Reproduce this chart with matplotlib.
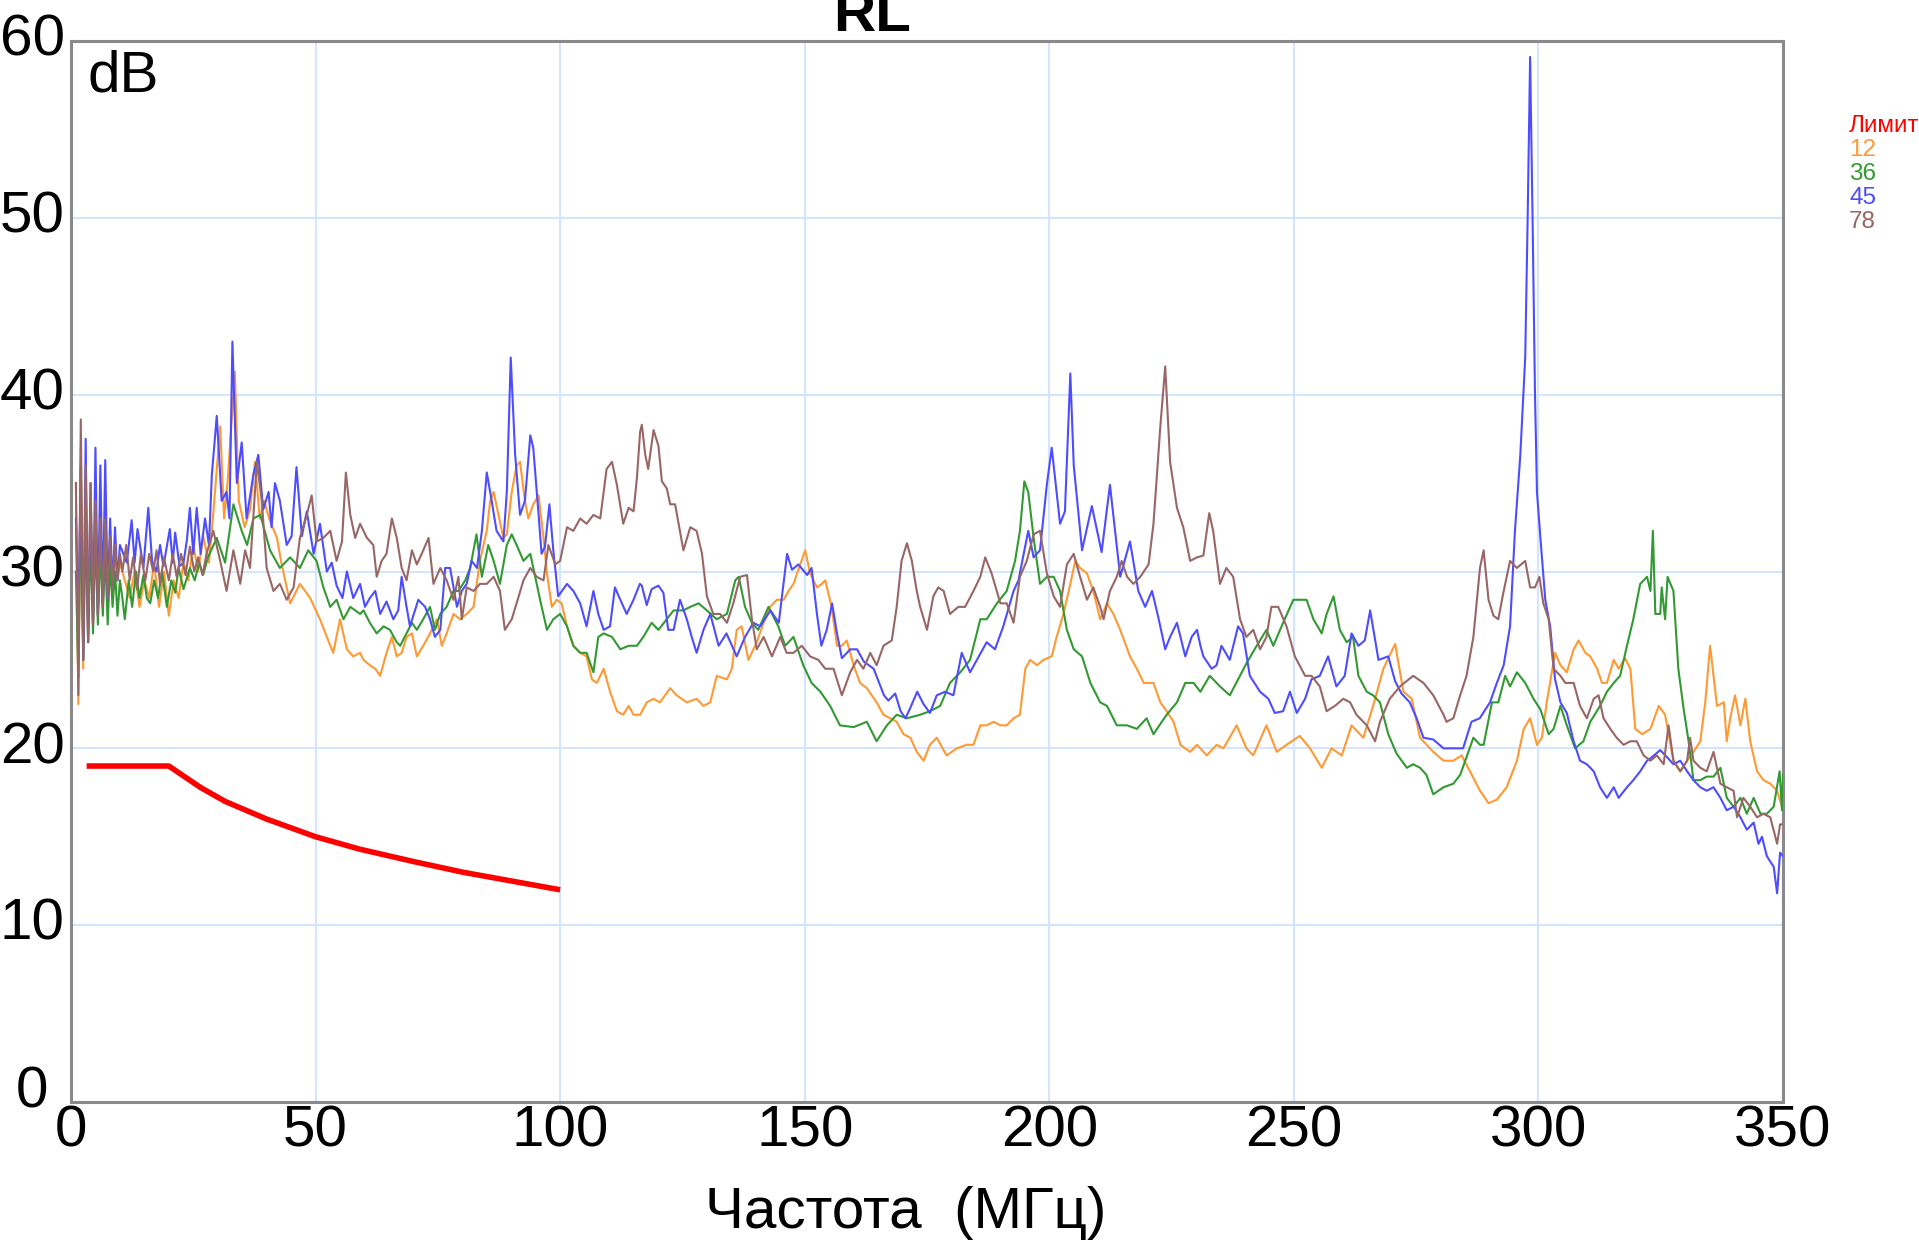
import numpy as np
import matplotlib
matplotlib.use("Agg")
import matplotlib.pyplot as plt
import matplotlib.transforms as mtransforms

plt.rcParams['font.family'] = ['Liberation Sans', 'DejaVu Sans']

# RL limit (MHz, dB)
LIMIT_F = [3.2, 20, 26.4, 31.5, 40, 50, 59, 70, 80, 90, 100]
LIMIT_DB = [19, 19, 17.8, 17.0, 16.0, 15.0, 14.3, 13.6, 13.0, 12.5, 12.0]

# pair 12 (MHz, dB)
TR_12 = [(1.0,35),(1.5,22.5),(2.0,37),(2.5,24.5),(3.0,34.5),(3.5,26),(4.0,34),(4.5,27),(5.0,33.5),(5.5,27.5),(6.0,33),(6.5,28),(7.0,32),(7.5,28.5),(8.0,31.5),(8.5,29),(9.0,31),(9.5,29.5),(10.0,30.5),
    (11,29.5),(12,28.5),(13,30),(14,28),(15,29.5),(16,28.5),(17,30.5),(18,28),(19,30),(20,27.5),(21,29.5),(22,28.5),(23,30.5),(24,29.5),(25,31.5),(26,30),(27,32),
    (28.2,30.5),(29.0,33.0),(30.5,38.2),(31.3,33.0),(32.0,35.0),(33.5,41.3),(34.3,34.0),(35.5,32.5),(36.6,33.5),(37.6,36.2),(38.6,33.0),(39.5,34.0),(40.5,33.0),(42.1,31.9),(43.0,30.5),(44.8,28.2),(46.8,29.3),(48.9,28.5),(50.9,27.3),(52.3,26.3),(53.6,25.4),(55.0,27.3),(56.4,25.6),(57.7,25.2),(59.1,25.4),
    (59.8,25.0),(61.1,24.7),(62.2,24.5),(63.2,24.1),(64.5,25.4),(65.6,26.3),(66.6,25.2),(67.6,25.4),(68.6,26.3),(69.7,26.5),(70.7,25.2),(72.0,25.8),(73.4,26.5),(74.8,27.3),(75.8,25.8),(76.8,26.5),(78.2,27.6),(79.5,27.3),(80.9,27.6),(82.3,28.0),(83.6,30.6),(85.0,32.3),(85.7,34.0),(86.4,34.5),(87.4,33.2),(88.4,31.9),(89.1,32.1),(90.1,34.5),(91.1,36.0),(91.8,36.2),(92.8,34.0),(93.5,33.0),(94.5,33.8),(95.6,34.3),(96.6,31.9),(97.3,29.9),(98.3,28.0),(99.3,28.4),(100.3,28.2),(101.4,26.9),(102.7,25.8),(104.1,25.4),(105.4,25.2),(106.5,23.9),(107.5,23.7),(108.9,24.5),(110.2,23.2),(111.6,22.1),(112.9,21.9),(114.0,22.4),(115.0,21.9),(116.35,21.9),
    (117.7,22.6),(119.1,22.8),(120.4,22.6),(122.5,23.4),(123.8,23.0),(125.9,22.6),(127.9,22.8),(129.3,22.4),(130.7,22.6),(132.0,24.1),(134.1,23.9),(135.1,24.5),(136.1,26.7),(137.1,26.9),(138.5,25.0),(140.2,26.0),(141.6,27.1),(142.9,28.0),(144.3,28.4),(145.7,28.4),(146.7,28.9),(147.7,29.3),(149.1,30.4),(150.1,31.2),(151.1,29.9),(152.5,29.1),(153.5,29.3),(154.2,29.5),(155.5,28.0),(156.6,25.8),(157.6,25.8),(158.6,26.1),(160.0,24.7),(161.3,23.7),(162.7,23.4),(164.7,22.6),(166.1,21.9),(167.5,21.7),(168.8,21.5),(170.2,20.8),(171.6,20.6),(172.9,19.8),
    (174.3,19.3),(175.6,20.2),(177.0,20.6),(179.0,19.6),(181.1,20.0),(183.1,20.2),(184.5,20.2),(185.9,21.3),(187.2,21.3),(188.6,21.5),(190.0,21.3),(191.3,21.3),(192.7,21.7),(194.0,21.9),(195.1,24.5),(196.1,25.0),(197.5,24.7),(198.8,25.0),(200.5,25.2),(201.5,26.3),(202.9,27.6),(204.3,29.3),(205.3,30.6),(206.3,30.2),(207.7,29.9),(209.0,28.9),(210.4,27.3),(211.8,28.2),(213.1,27.6),(214.5,26.7),(216.5,25.2),(217.9,24.5),(219.3,23.7),(221.3,23.7),(222.7,22.6),(224.0,22.1),(225.4,21.5),(226.8,20.2),(228.8,19.8),(230.2,20.2),
    (232.2,19.6),(234.2,20.2),(235.6,20.0),(238.3,21.3),(240.3,20.0),(241.7,19.6),(244.4,21.3),(246.5,19.8),(248.5,20.2),(251.2,20.7),(253.3,20.0),(255.7,18.9),(257.7,20.0),(259.8,19.6),(261.8,21.3),(264.2,20.6),(266.2,22.4),(268.3,24.5),(270.7,25.9),(272.4,23.2),(274.1,22.8),(275.8,20.6),(278.5,19.8),(280.6,19.3),(282.6,19.3),(284.3,19.6),(286.0,18.7),(288.05,17.6),
    (289.8,16.9),(291.5,17.1),(293.5,17.8),(295.6,19.3),(297.0,21.1),(298.3,21.7),(299.7,20.2),(300.7,20.6),(301.7,22.6),(303.4,25.4),(304.5,24.7),(305.8,24.3),(307.2,25.6),(308.2,26.1),(309.6,25.4),(310.6,25.2),(312.0,24.5),(313.0,23.7),(314.0,23.7),(315.4,25.0),(316.4,24.5),(317.7,25.1),(318.8,24.5),(319.8,21.1),(321.2,20.8),(322.9,21.1),(324.6,22.4),(325.9,21.9),(327.6,19.3),(329.0,18.7),(330.4,19.3),(331.7,19.8),(333.1,20.4),(334.1,22.6),(335.1,25.8),(336.5,22.4),(337.9,22.6),(338.5,20.4),(339.2,21.7),(340.2,23.0),(341.3,21.3),(342.3,22.8),(343.3,20.4),(344.7,18.7),(346.0,18.2),(347.4,18.0),(348.8,17.6),(349.8,16.7),(350.0,18.0)]

# pair 36
TR_36 = [(1.0,30),(1.5,24),(2.0,34),(2.5,25),(3.0,33),(3.5,26),(4.0,32),(4.5,26.5),(5.0,32),(5.5,27),(6.0,31.5),(6.5,27.5),(7.0,31),(7.5,27),(8.0,30.5),(8.5,28),(9.0,30),(9.5,27.5),(10.0,29.5),
    (10.5,28.5),(11.0,27.3),(11.8,29.5),(12.5,28.0),(13.3,30.0),(14.0,28.5),(14.8,29.8),(15.5,28.5),(16.2,28.2),(17.0,29.5),(17.8,28.5),(18.6,30.0),(19.6,28.0),(20.5,29.5),(21.3,28.8),(22.0,30.2),(23.0,29.0),(24.3,30.2),(25.3,29.5),(26.2,30.5),(27.0,29.8),(28.0,30.8),
    (29.8,31.9),(31.5,30.5),(33.2,33.8),(34.9,32.3),(36.0,31.5),(37.3,33.0),(38.7,33.2),(40.7,31.2),(42.7,30.2),(44.8,30.8),(46.8,30.2),(48.5,31.2),(50.2,30.6),(51.6,29.1),(53.0,28.0),(54.3,28.4),(55.7,27.3),(57.1,28.0),(59.1,27.6),
    (59.8,27.8),(61.1,27.1),(62.5,26.5),(63.9,26.9),(65.2,26.7),(66.6,26.0),(67.3,25.8),(68.6,26.5),(69.7,27.1),(70.7,26.7),(72.0,27.3),(73.4,28.0),(74.4,26.7),(75.5,27.6),(76.8,28.0),(78.2,28.9),(79.2,28.9),(80.6,29.5),(81.6,30.2),(82.9,32.1),(84.0,29.7),(85.3,31.5),(86.4,30.6),(87.7,29.3),(89.1,31.5),(90.1,32.1),(91.1,31.5),(92.5,30.6),(93.9,31.0),(94.9,29.7),(95.9,28.4),(97.3,26.7),(98.6,27.3),(100.0,27.6),(101.4,26.9),(102.7,25.8),(104.1,25.4),(105.4,25.4),(106.8,24.3),(107.8,26.3),(108.9,26.5),(110.6,26.3),(112.3,25.6),(114.0,25.8),(115.7,25.8),
    (117.0,26.3),(118.7,27.1),(120.1,26.7),(121.8,27.3),(123.2,27.8),(125.2,27.8),(126.6,28.0),(128.3,28.2),(130.0,27.8),(132.0,27.3),(134.1,27.6),(135.8,29.5),(136.5,29.7),(137.8,28.0),(139.2,27.1),(140.5,26.7),(142.6,28.0),(144.6,26.9),(146.0,25.8),(147.7,26.3),(149.7,24.7),(151.4,23.7),(153.2,23.2),(155.2,22.4),(157.2,21.3),(160.0,21.2),(162.7,21.5),(164.7,20.4),(166.8,21.3),(168.8,21.9),(170.9,21.7),(173.6,21.9),
    (175.6,22.1),(177.7,22.4),(179.7,23.7),(181.8,24.3),(183.8,25.0),(185.9,27.3),(187.2,27.3),(189.3,28.2),(191.3,28.9),(193.0,30.6),(194.0,32.3),(194.9,35.1),(195.7,34.5),(196.8,31.9),(198.1,29.3),(199.5,29.7),(200.9,29.7),(202.2,28.9),(203.6,26.7),(205.0,25.6),(206.7,25.2),(208.4,23.7),(210.4,22.6),(211.8,22.4),(213.8,21.3),(215.9,21.3),(217.9,21.1),(219.9,21.7),(221.3,20.8),(223.0,21.5),(224.0,21.9),(226.1,22.6),(227.8,23.7),(229.5,23.7),(230.9,23.2),
    (232.8,24.1),(234.9,23.5),(236.9,23.0),(238.6,23.9),(240.3,24.8),(242.4,25.8),(244.4,26.7),(245.8,25.8),(247.8,27.1),(249.9,28.4),(251.2,28.4),(252.6,28.4),(254.0,27.3),(255.7,26.5),(256.7,27.6),(258.1,28.6),(259.4,26.7),(260.8,26.0),(262.1,26.3),(263.2,24.1),(264.9,23.2),(266.2,23.0),(267.6,22.6),(269.3,20.8),(271.0,19.7),(273.1,18.9),(274.4,19.1),(275.8,18.9),(277.1,18.5),(278.5,17.4),(280.6,17.8),(282.6,18.0),(284.0,18.5),(285.3,19.5),(286.7,20.6),(288.05,20.2),
    (288.8,20.2),(290.5,22.6),(291.8,22.6),(293.2,24.1),(294.2,23.5),(295.6,24.3),(297.3,23.7),(299.0,22.8),(300.4,22.2),(302.1,20.8),(303.1,21.1),(304.5,22.4),(305.8,21.3),(307.5,20.0),(309.2,20.4),(310.6,21.5),(312.6,22.4),(314.0,23.2),(315.4,23.7),(316.7,24.1),(318.1,25.8),(319.4,27.3),(320.8,29.3),(322.2,29.7),(322.9,28.9),(323.4,32.3),(323.9,27.6),(324.9,27.6),(325.2,29.1),(325.9,27.3),(326.4,29.7),(327.6,28.9),(328.6,24.5),(329.7,22.2),(330.7,20.4),(331.7,18.2),(333.1,18.2),(334.4,18.4),(335.8,18.4),(337.2,18.9),(338.5,17.2),(339.9,16.7),(341.3,17.2),(342.6,16.3),(344.0,17.2),(345.4,16.3),(346.7,16.3),(348.1,16.7),(349.3,18.7),(349.8,16.5),(350.0,18.5)]

# pair 45
TR_45 = [(1.0,33),(1.5,27),(2.0,36),(2.5,25),(3.0,37.5),(3.5,26),(4.0,35),(4.5,27),(5.0,37),(5.5,27.5),(6.0,36),(6.5,28),(7.0,36.3),(7.5,28.5),(8.0,33),(8.5,29),(9.0,32.5),(9.5,29.5),(10.0,31.5),
    (11.4,30.5),(12.4,32.9),(13.0,30.5),(13.6,32.4),(14.8,30.2),(15.8,33.6),(16.6,30.5),(17.5,30.0),(18.2,31.5),(18.9,30.3),(20.2,32.4),(20.8,30.5),(21.3,32.2),(22.2,30.3),(23.0,30.5),(23.7,31.8),(24.3,33.6),(25.0,31.0),(25.7,33.6),(26.5,31.0),(27.4,33.0),(28.2,31.5),
    (28.8,35.5),(29.8,38.8),(30.8,34.0),(31.8,34.5),(32.4,33.0),(33.0,43.0),(33.9,35.0),(34.9,37.3),(35.9,33.0),(37.3,35.5),(38.3,36.6),(39.3,33.5),(40.4,34.5),(41.0,32.5),(41.7,35.0),(42.7,34.0),(44.1,31.5),(45.1,32.0),(46.1,35.9),(47.2,32.0),(48.2,33.4),(49.6,31.0),(50.9,32.7),(52.3,30.0),(53.3,30.5),(54.3,29.2),(55.5,28.5),(56.4,30.0),(57.7,28.5),(59.1,29.3),
    (60.1,28.0),(61.1,28.5),(62.2,28.9),(63.2,27.6),(64.5,28.3),(65.9,27.3),(66.9,27.8),(67.6,29.7),(68.6,28.0),(69.3,26.9),(71.0,28.4),(72.4,28.0),(73.4,27.3),(74.4,26.3),(75.5,26.7),(76.5,30.2),(77.5,30.2),(78.9,28.0),(79.9,28.9),(80.9,29.3),(81.9,30.6),(83.0,30.2),(84.0,32.3),(85.0,35.6),(86.0,34.0),(87.0,32.3),(88.4,31.7),(89.1,34.5),(89.9,42.1),(90.8,36.6),(91.8,33.2),(92.8,34.0),(93.9,37.7),(94.5,37.0),(95.6,33.2),(96.2,31.0),(96.9,31.4),(97.8,33.8),(98.6,31.2),(99.6,28.6),(101.4,29.3),(102.7,28.9),(104.1,28.2),(105.4,26.9),(106.8,28.9),(107.8,27.6),(108.9,26.7),(110.2,26.9),(111.2,29.1),(112.3,28.4),(113.6,27.6),(115.0,28.4),(116.3,29.3),
    (116.7,29.2),(117.7,28.1),(118.7,29.0),(120.1,29.2),(121.1,28.8),(122.1,26.7),(123.2,26.7),(124.5,28.4),(125.9,27.3),(126.9,26.3),(127.9,25.4),(129.3,26.7),(130.7,27.6),(132.4,25.8),(134.0,26.5),(136.1,25.2),(137.8,26.3),(139.5,27.1),(140.9,26.9),(143.0,27.8),(144.7,27.1),(146.4,31.0),(147.4,30.1),(148.7,30.4),(150.5,29.8),(151.4,30.2),(152.5,27.6),(153.4,25.8),(154.5,26.7),(155.6,28.2),(156.6,26.5),(157.6,25.1),(159.3,25.6),(160.7,25.6),(162.1,24.9),(164.1,24.5),(166.2,23.0),(167.1,22.7),(168.5,23.1),(169.6,22.1),(170.6,21.7),(171.6,22.3),(173.0,23.2),
    (174.3,22.5),(175.6,22.0),(177.0,23.0),(178.7,23.2),(180.4,23.0),(182.1,25.4),(183.8,24.3),(185.2,25.0),(187.2,26.0),(188.9,25.6),(190.6,26.9),(192.7,28.9),(193.7,29.5),(195.7,32.3),(196.8,30.8),(198.1,31.2),(199.5,34.9),(200.5,37.0),(202.2,32.7),(203.2,33.4),(204.3,41.2),(205.0,36.0),(206.7,31.2),(208.7,33.7),(210.7,31.1),(212.4,34.9),(214.5,29.7),(216.5,31.7),(218.2,28.9),(219.6,28.0),(221.0,28.9),(222.3,27.4),(223.7,25.6),(224.7,26.3),(226.1,27.1),(227.8,25.2),(229.1,26.3),(230.2,26.7),(230.9,25.8),
    (231.5,25.2),(233.2,24.5),(234.2,24.7),(235.2,25.8),(236.9,25.0),(238.6,26.9),(239.6,26.5),(241.0,24.1),(243.1,23.2),(244.8,22.8),(246.1,22.0),(247.8,22.1),(249.2,23.2),(250.6,22.0),(252.3,22.8),(253.6,23.9),(255.3,24.1),(257.0,25.2),(258.7,23.5),(260.4,24.1),(261.8,26.5),(263.2,25.8),(264.5,26.1),(265.6,27.8),(267.3,25.0),(269.3,25.2),(270.7,23.8),(272.0,23.1),(273.7,22.6),(275.1,21.7),(276.5,20.6),(278.5,20.5),(280.6,20.0),(283.3,20.0),(284.6,20.0),(286.3,21.5),(288.0,21.7),
    (290.1,22.6),(291.5,23.7),(292.9,24.7),(294.2,26.9),(295.2,32.3),(296.3,36.6),(297.3,42.1),(297.8,50.0),(298.3,59.1),(298.8,50.0),(299.3,40.0),(299.7,34.5),(300.4,31.9),(301.4,28.4),(302.4,26.9),(303.4,23.9),(304.5,22.6),(305.8,22.0),(307.2,20.4),(308.5,19.3),(309.9,19.1),(311.3,18.7),(312.6,17.8),(314.0,17.2),(315.4,17.8),(316.4,17.2),(318.1,17.8),(319.4,18.2),(320.8,18.7),(322.2,19.3),(323.2,19.5),(324.9,19.9),(326.3,19.5),(327.6,19.1),(329.0,19.3),(330.4,18.7),(331.7,18.2),(333.1,17.8),(334.4,17.6),(335.8,17.8),(337.2,17.2),(338.5,16.5),(339.9,16.7),(341.3,16.1),(342.6,15.4),(344.0,15.8),(345.0,14.6),(345.7,15.0),(346.7,13.9),(348.1,13.3),(348.8,11.8),(349.4,14.1),(350.0,13.9)]

# pair 78
TR_78 = [(1.0,35),(1.5,23),(2.0,38.6),(2.5,25),(3.0,36),(3.5,26),(4.0,35),(4.5,27),(5.0,34),(5.5,27.5),(6.0,33),(6.5,28),(7.0,33),(7.5,28.5),(8.0,32),(8.5,29),(9.0,31.5),(9.5,29.5),(10.0,31),
    (10.5,30.0),(11.3,31.5),(12.0,29.5),(12.7,30.8),(13.5,29.0),(14.3,31.0),(15.2,29.5),(16.0,31.0),(16.8,30.0),(17.5,31.2),(18.2,29.3),(19.0,30.8),(20.0,29.5),(20.8,31.0),(21.6,29.7),(22.5,31.0),(23.4,29.8),(24.3,31.4),(25.2,30.0),(26.0,30.8),(26.9,29.8),(27.7,31.0),
    (29.1,32.3),(30.5,30.6),(31.8,28.9),(33.2,31.2),(34.6,29.3),(35.6,31.2),(36.6,30.2),(38.0,36.2),(39.0,34.0),(40.0,30.2),(41.4,28.9),(42.7,29.3),(44.1,28.4),(45.5,29.1),(46.8,31.9),(48.2,33.2),(49.2,34.3),(50.2,31.7),(51.6,31.9),(53.0,32.3),(54.3,30.6),(55.4,31.7),(56.2,35.6),(57.1,33.2),(58.1,31.9),(59.1,32.7),
    (60.5,31.9),(61.8,31.5),(62.5,29.7),(63.5,30.6),(64.5,31.0),(65.6,33.0),(66.6,31.9),(67.6,30.2),(68.6,29.5),(69.7,31.2),(70.7,30.4),(71.7,31.0),(73.1,31.9),(74.1,29.3),(75.5,30.2),(76.8,29.5),(78.2,28.4),(79.2,29.7),(79.9,27.3),(80.9,29.1),(82.3,28.9),(83.6,29.3),(85.0,29.3),(86.4,29.7),(87.7,28.9),(88.7,26.7),(90.1,27.3),(91.1,28.2),(92.5,29.5),(93.9,30.2),(95.2,29.7),(96.6,29.5),(97.6,31.5),(99.0,30.4),(100.0,30.6),(101.4,32.5),(102.7,32.3),(104.1,33.0),(105.4,32.7),(106.8,33.2),(108.2,33.0),(109.5,35.8),(110.6,36.2),(111.6,34.9),(112.9,32.7),(114.0,33.6),(115.0,33.4),(115.7,35.3),(116.35,37.9),
    (116.7,38.3),(117.4,36.6),(118.0,35.8),(119.1,38.0),(120.1,37.1),(120.8,35.1),(121.8,34.7),(122.5,33.8),(123.5,33.8),(125.2,31.2),(126.6,32.5),(127.9,32.3),(129.0,31.0),(130.0,28.6),(131.3,27.6),(132.7,27.6),(134.1,27.1),(135.4,28.2),(136.8,29.7),(138.2,29.8),(139.2,27.3),(140.2,25.6),(141.6,26.3),(143.3,25.2),(145.0,26.3),(146.3,25.4),(147.7,25.4),(149.4,25.8),(151.1,25.2),(152.8,25.0),(154.2,24.5),(155.9,24.5),(157.6,23.0),(159.3,24.3),(160.7,25.0),(162.0,24.5),(163.4,25.4),(164.7,24.7),(166.1,25.8),(167.8,26.1),(168.8,28.0),(169.8,30.6),(170.9,31.6),(171.9,30.6),(172.9,28.9),(173.6,28.0),
    (175.0,26.7),(176.3,28.6),(177.3,29.1),(178.4,28.9),(179.7,27.6),(181.4,28.0),(182.8,28.0),(184.5,28.9),(185.9,29.7),(186.9,30.8),(188.2,29.9),(190.0,28.2),(191.3,28.2),(192.7,27.1),(194.0,29.7),(195.4,30.6),(196.8,32.1),(198.1,32.3),(199.5,29.9),(200.9,28.6),(202.2,28.0),(203.6,30.4),(205.0,31.0),(206.3,29.7),(207.7,28.4),(209.0,29.1),(210.4,28.0),(211.1,27.3),(212.4,28.9),(213.8,29.7),(214.8,30.6),(215.9,29.7),(217.2,29.3),(218.6,29.7),(220.3,30.4),(221.3,32.7),(222.7,38.2),(223.7,41.6),(224.7,36.2),(226.1,33.6),(227.4,32.5),(228.8,30.6),(230.2,30.8),
    (231.5,30.9),(232.7,33.3),(233.5,32.3),(234.9,29.3),(236.2,30.2),(237.6,29.7),(239.0,27.3),(240.3,26.3),(241.7,26.7),(243.1,25.6),(244.4,26.3),(245.4,28.0),(246.8,28.0),(248.5,26.9),(250.2,25.2),(252.3,24.1),(253.6,24.1),(255.3,23.5),(256.7,22.1),(258.4,22.4),(260.1,22.8),(261.5,22.6),(262.8,21.9),(264.9,21.3),(266.6,20.4),(267.6,21.5),(269.6,22.8),(271.7,23.5),(274.4,24.1),(276.5,23.7),(278.5,23.0),(280.6,21.9),(281.2,21.5),(282.6,21.7),(284.0,23.0),(285.3,24.1),(286.7,26.3),(288.05,30.2),
    (288.8,31.2),(289.8,28.4),(290.8,27.5),(291.8,27.3),(292.9,28.9),(294.2,30.6),(295.6,30.2),(297.3,30.6),(298.3,29.1),(299.3,29.1),(300.2,29.7),(301.0,28.2),(302.1,27.3),(303.1,24.5),(304.5,24.1),(305.5,23.7),(307.2,23.7),(308.5,22.4),(309.9,21.7),(311.3,22.8),(312.3,23.0),(313.3,21.7),(314.7,21.1),(316.0,20.6),(317.4,20.2),(318.8,20.4),(320.1,20.4),(321.5,19.6),(322.9,19.3),(324.2,19.6),(325.6,19.1),(326.6,21.3),(327.6,19.3),(329.0,18.7),(330.4,19.3),(331.0,20.6),(331.7,19.3),(333.1,18.9),(334.4,18.7),(335.8,19.8),(337.2,18.0),(338.5,17.8),(339.9,17.6),(340.6,16.1),(341.9,17.2),(343.3,16.7),(344.7,16.1),(346.0,16.3),(347.4,16.1),(348.8,14.6),(349.4,15.7),(350.0,15.7)]

SERIES = [("12", TR_12, "#ff9933"), ("36", TR_36, "#339933"),
          ("45", TR_45, "#4d4dff"), ("78", TR_78, "#996666")]
LIMIT_COLOR = "#ff0000"

W, H = 1919, 1241
fig = plt.figure(figsize=(W / 100, H / 100), dpi=100)
ax = fig.add_axes([71 / W, 1 - 1102 / H, (1783 - 71) / W, (1102 - 41) / H])

for name, tr, col in SERIES:
    a = np.array(tr)
    ax.plot(a[:, 0], a[:, 1], color=col, lw=1.5, zorder=3)
ax.plot(LIMIT_F, LIMIT_DB, color=LIMIT_COLOR, lw=4, zorder=4, solid_capstyle="butt")

ax.set_xlim(0, 350)
ax.set_ylim(0, 60)
ax.set_xticks(np.arange(0, 351, 50))
ax.set_yticks(np.arange(0, 61, 10))
ax.grid(True, color="#d3e5ff", lw=1.5, zorder=0)
ax.set_axisbelow(True)
for s in ax.spines.values():
    s.set_color("#8a8a8a")
    s.set_linewidth(2.2)
ax.tick_params(axis="both", length=0, labelsize=42)
ax.tick_params(axis="x", pad=2)
ax.tick_params(axis="y", pad=28)
for lab in ax.get_yticklabels():
    # the "0" sits higher so it clears the x-axis "0"
    dy = 11 if lab.get_text() == "0" else 4.5
    lab.set_horizontalalignment("center")
    lab.set_transform(lab.get_transform() +
                      mtransforms.ScaledTranslation(0, dy / 72, fig.dpi_scale_trans))

fig.text(872 / W, 1 - 31 / H, "RL", ha="center", va="baseline", fontsize=42, fontweight="bold")
fig.text(88 / W, 1 - 92 / H, "dB", ha="left", va="baseline", fontsize=42)
fig.text(906 / W, 1 - 1228 / H, "Частота  (МГц)", ha="center", va="baseline", fontsize=42)

legend_items = [("Лимит", LIMIT_COLOR)] + [(n, c) for n, _, c in SERIES]
for i, (txt, col) in enumerate(legend_items):
    fig.text(1849 / W, 1 - (132 + 24 * i) / H, txt, color=col, fontsize=17.5,
             ha="left", va="baseline")

fig.savefig("out.png", dpi=100)
